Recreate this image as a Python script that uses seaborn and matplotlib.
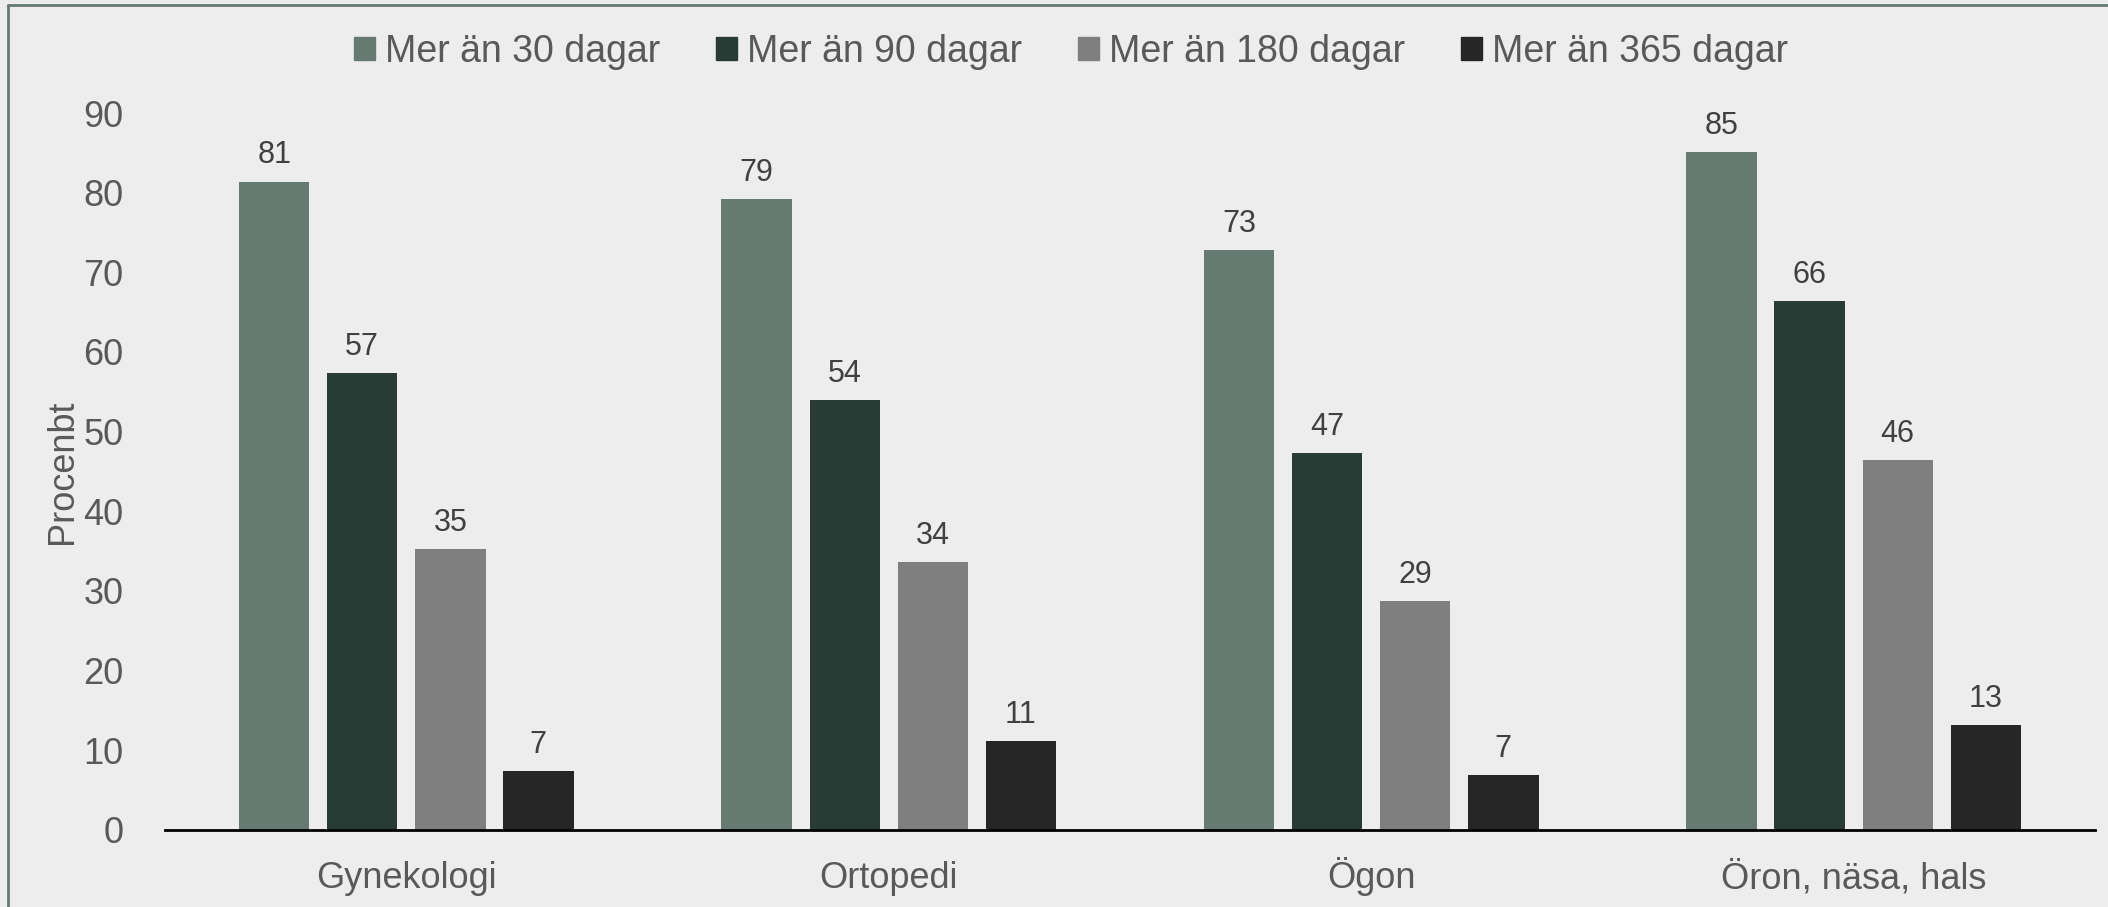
import matplotlib
matplotlib.use("Agg")
import matplotlib.pyplot as plt
from matplotlib.lines import Line2D
import seaborn as sns
import pandas as pd

# Andel väntande (procent) per område och väntetid
categories = ["Gynekologi", "Ortopedi", "Ögon", "Öron, näsa, hals"]
series = ["Mer än 30 dagar", "Mer än 90 dagar", "Mer än 180 dagar", "Mer än 365 dagar"]
values_30 = [81.4, 79.2, 72.8, 85.1]
values_90 = [57.4, 54.0, 47.3, 66.4]
values_180 = [35.3, 33.6, 28.7, 46.4]
values_365 = [7.4, 11.1, 6.9, 13.2]
y_ticks = [0, 10, 20, 30, 40, 50, 60, 70, 80, 90]

rows = []
for name, vals in zip(series, [values_30, values_90, values_180, values_365]):
    for cat, v in zip(categories, vals):
        rows.append({"Område": cat, "Väntetid": name, "Procent": v})
df = pd.DataFrame(rows)

palette = ["#657A70", "#293B35", "#7F7F7F", "#262626"]
bg = "#EDEDED"
text_col = "#595959"

sns.set_style("white")
plt.rcParams["font.family"] = ["Liberation Sans", "DejaVu Sans"]

fig = plt.figure(figsize=(21.08, 9.07), dpi=100, facecolor=bg)
ax = fig.add_axes([0.0783, 0.085, 0.9155, 0.7904])
ax.set_facecolor(bg)

sns.barplot(data=df, x="Område", y="Procent", hue="Väntetid", hue_order=series,
            palette=palette, width=0.73, gap=0.2, saturation=1, linewidth=0,
            ax=ax, legend=False)

for cont in ax.containers:
    ax.bar_label(cont, fmt="%.0f", padding=8, fontsize=22, color="#404040")

ax.set_ylim(0, 90)
ax.set_xlim(-0.5, 3.5)
ax.set_yticks(y_ticks)
ax.tick_params(axis="y", length=0, pad=30, labelsize=26, labelcolor=text_col)
ax.tick_params(axis="x", length=0, pad=42, labelsize=26, labelcolor=text_col)
for lab in ax.get_xticklabels():
    lab.set_verticalalignment("baseline")
ax.set_xlabel("")
ax.set_ylabel("Procenbt", fontsize=26, color=text_col, labelpad=2)

for s in ["top", "right", "left"]:
    ax.spines[s].set_visible(False)
ax.spines["bottom"].set_color("black")
ax.spines["bottom"].set_linewidth(2)

handles = [plt.Rectangle((0, 0), 1, 1, color=c) for c in palette]
fig.legend(handles, series, loc="center", bbox_to_anchor=(0.508, 0.943), ncol=4,
           frameon=False, fontsize=27, labelcolor=text_col, handlelength=0.55,
           handleheight=0.55, handletextpad=0.27, columnspacing=1.5)

# ram (bara överkant och vänsterkant syns)
fig.add_artist(Line2D([0.0038, 1.0], [0.9945, 0.9945], color="#667A70", lw=2))
fig.add_artist(Line2D([0.0038, 0.0038], [0.0, 0.9945], color="#667A70", lw=2))

fig.savefig("out.png", dpi=100, facecolor=bg)
